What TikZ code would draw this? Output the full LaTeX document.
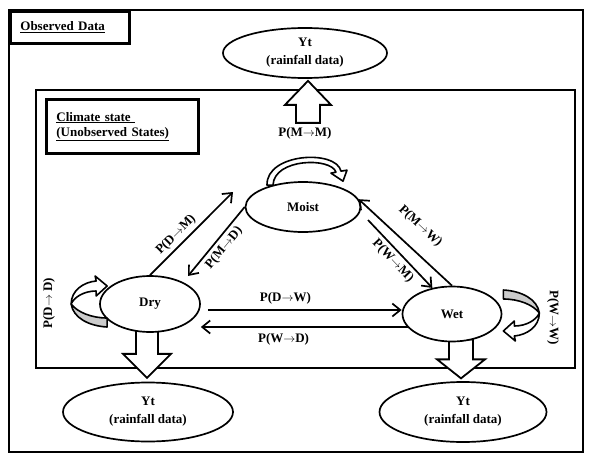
\documentclass[tikz,border=0pt]{standalone}
\usepackage{fontspec}
\setmainfont{Liberation Serif}
\usetikzlibrary{
  arrows.meta,
  shapes.geometric,
  calc,
  backgrounds
}
\newcommand{\trto}{\ensuremath{\rightarrow}}

\begin{document}
\begin{tikzpicture}[
    x=1pt, y=-1pt,
    font=\fontsize{13}{15}\selectfont\bfseries,
    >={Straight Barb[length=8pt, width=13pt]},
    % Styles
    frame_box/.style={draw, line width=2.8pt},
    label_box/.style={
        rectangle, draw, line width=2.8pt, align=left, inner xsep=10pt, anchor=north west
    },
    state_node/.style={
        ellipse, draw, line width=1.7pt, fill=white, inner sep=0pt, align=center
    },
    obs_node/.style={
        state_node, font=\fontsize{13}{18}\selectfont\bfseries
    },
    trans_arrow/.style={line width=1.7pt},
    big_arrow/.style={draw, line width=1.8pt, fill=white, line join=miter},
    loop_arrow/.style={draw, line width=1.6pt, fill=white, line join=round},
    loop_band/.pic={
        \filldraw[loop_arrow] (-36,0) .. controls (-36,-14) and (-23,-22) .. (-11,-23)
            -- (-12,-28) -- (0,-18) -- (-11,-8) -- (-11,-13)
            .. controls (-23,-13) and (-33,-7) .. (-36,0) -- cycle;
        \filldraw[loop_arrow, fill=gray!40] (-36,0) .. controls (-34,14) and (-18,22) .. (0,23)
            -- (0,14) .. controls (-16,14) and (-30,8) .. (-36,0) -- cycle;
    }
]
\useasboundingbox (0,0) rectangle (589,455);

% 1. Frames
\begin{scope}[on background layer]
    \draw[frame_box] (9,10) rectangle (583,452);
    \draw[frame_box] (36,90) rectangle (575,368);
\end{scope}

\node[label_box, text width=99pt, minimum height=32pt] (obs_lbl) at (9,10) {\underline{Observed Data}};
\node[label_box, text width=132pt, minimum height=54pt] (clim_lbl) at (45,98) {\underline{Climate state\ }\\\underline{(Unobserved States)}};

% 2. Observations
\node[obs_node, minimum width=164pt, minimum height=50pt] (yt_top) at (305,53) {Yt\\(rainfall data)};
\node[obs_node, minimum width=170pt, minimum height=59pt] (yt_left) at (148,412) {Yt\\(rainfall data)};
\node[obs_node, minimum width=167pt, minimum height=60pt] (yt_right) at (463,412) {Yt\\(rainfall data)};

% 3. Hidden states
\node[state_node, minimum width=115pt, minimum height=50pt] (moist) at (303,207) {Moist};
\node[state_node, minimum width=100pt, minimum height=56pt] (dry) at (150,304) {Dry};
\node[state_node, minimum width=99pt, minimum height=55pt] (wet) at (452,314) {Wet};

% 4. Emission arrows
\begin{scope}[on background layer]
    \draw[big_arrow] ($(yt_top.south)+(3,2)$) -- ++(23,24) -- ++(-11,0) -- ++(0,18)
        -- ++(-24,0) -- ++(0,-18) -- ++(-11,0) -- cycle;
    \draw[big_arrow] ($(dry.south)+(-14,-3)$) -- ++(0,24) -- ++(-13,0) -- ++(24,24)
        -- ++(24,-24) -- ++(-13,0) -- ++(0,-24) -- cycle;
    \draw[big_arrow] ($(wet.south)+(-3,-3)$) -- ++(0,20) -- ++(-12,0) -- ++(24,19)
        -- ++(24,-19) -- ++(-12,0) -- ++(0,-20) -- cycle;
\end{scope}

% 5. Self transitions
\begin{scope}[shift={(moist.north)}]
    \filldraw[loop_arrow] (-36,4) .. controls (-37,-28) and (33,-32) .. (38,-10)
        -- (44,-11) -- (40,0) -- (28,-8) -- (33,-9)
        .. controls (28,-24) and (-29,-23) .. (-30,4) -- cycle;
\end{scope}
\pic at ($(dry.west)+(8,0)$) {loop_band};
\pic[rotate=180] at ($(wet.east)+(1,-1)$) {loop_band};

\node (lbl_mm) at (305,133) {P(M\trto M)};
\node[rotate=90] (lbl_dd) at (49,303) {P(D\trto\ D)};
\node[rotate=-90] (lbl_ww) at (553,318) {P(W\trto W)};

% --- Connections ---
\coordinate (dm_end) at (233,192);
\coordinate (md_end) at (188,276);
\coordinate (wm_start) at (368,220);

\draw[trans_arrow, ->] (dry.north) -- (dm_end) node[pos=0.4, sloped, above] {P(D\trto M)};
\draw[trans_arrow, <-] (md_end) -- (moist.west) node[midway, sloped, below] {P(M\trto D)};
\draw[trans_arrow, <-] (moist.8) -- (wet.north) node[midway, sloped, above=12pt] {P(M\trto W)};
\draw[trans_arrow, ->] (wm_start) -- (wet.127) node[midway, sloped, below] {P(W\trto M)};
\draw[trans_arrow, ->] ($(dry.east)+(7,6)$) -- ($(wet.west)+(0,-4)$) node[pos=0.4, above=2pt] {P(D\trto W)};
\draw[trans_arrow, ->] ($(wet.west)+(6,13)$) -- ($(dry.east)+(0,23)$) node[pos=0.6, below=2pt] {P(W\trto D)};

\end{tikzpicture}
\end{document}
